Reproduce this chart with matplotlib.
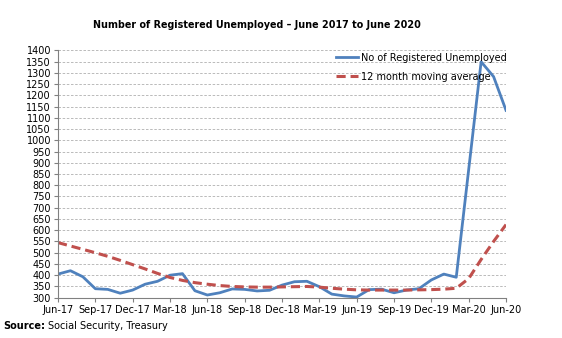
import numpy as np
import matplotlib
matplotlib.use("Agg")
import matplotlib.pyplot as plt

# monthly series, Jun-17 .. Jun-20
months = ["Jun-17", "Jul-17", "Aug-17", "Sep-17", "Oct-17", "Nov-17", "Dec-17",
          "Jan-18", "Feb-18", "Mar-18", "Apr-18", "May-18", "Jun-18", "Jul-18",
          "Aug-18", "Sep-18", "Oct-18", "Nov-18", "Dec-18", "Jan-19", "Feb-19",
          "Mar-19", "Apr-19", "May-19", "Jun-19", "Jul-19", "Aug-19", "Sep-19",
          "Oct-19", "Nov-19", "Dec-19", "Jan-20", "Feb-20", "Mar-20", "Apr-20",
          "May-20", "Jun-20"]
registered = [405, 420, 393, 340, 337, 320, 334, 360, 373, 400, 407, 331, 312,
              322, 339, 337, 330, 333, 356, 371, 373, 349, 316, 308, 303, 336,
              338, 322, 334, 340, 379, 405, 391, 870, 1349, 1283, 1133]
moving_avg = [545, 530, 515, 500, 484, 466, 447, 428, 408, 390, 377, 367, 360,
              354, 350, 348, 347, 347, 348, 349, 350, 347, 342, 338, 335, 334,
              334, 334, 334, 335, 336, 338, 342, 385, 470, 550, 625]

x = np.arange(len(months))

fig = plt.figure(figsize=(5.62, 3.38), dpi=100)
ax = fig.add_axes([0.1032, 0.1192, 0.7972, 0.732])

ax.plot(x, registered, color="#4f81bd", lw=2.0, label="No of Registered Unemployed")
ax.plot(x, moving_avg, color="#c0504d", lw=2.2, ls=(0, (3, 1.6)),
        label="12 month moving average")

ax.set_xlim(0, 36)
ax.set_ylim(300, 1400)
ax.set_yticks(np.arange(300, 1401, 50))
ax.set_xticks(x[::3])
ax.set_xticklabels(months[::3])
ax.tick_params(labelsize=7, length=3, color="#808080", pad=2)
ax.grid(axis="y", ls=(0, (3, 2)), color="#b0b0b0", lw=0.6)
ax.set_axisbelow(True)
for s in ["top", "right"]:
    ax.spines[s].set_visible(False)
for s in ["left", "bottom"]:
    ax.spines[s].set_color("#808080")
    ax.spines[s].set_linewidth(0.8)

ax.legend(loc="upper left", bbox_to_anchor=(0.60, 1.025), frameon=False,
          fontsize=7, handlelength=2.3, handletextpad=0.3, labelspacing=0.9)

fig.text(0.458, 0.925, "Number of Registered Unemployed \u2013 June 2017 to June 2020",
         ha="center", va="center", fontsize=6.9, fontweight="bold")
fig.text(0.005, 0.035, "Source:", fontsize=7, fontweight="bold", va="center")
fig.text(0.085, 0.035, "Social Security, Treasury", fontsize=7, va="center")

fig.savefig("out.png", dpi=100)
